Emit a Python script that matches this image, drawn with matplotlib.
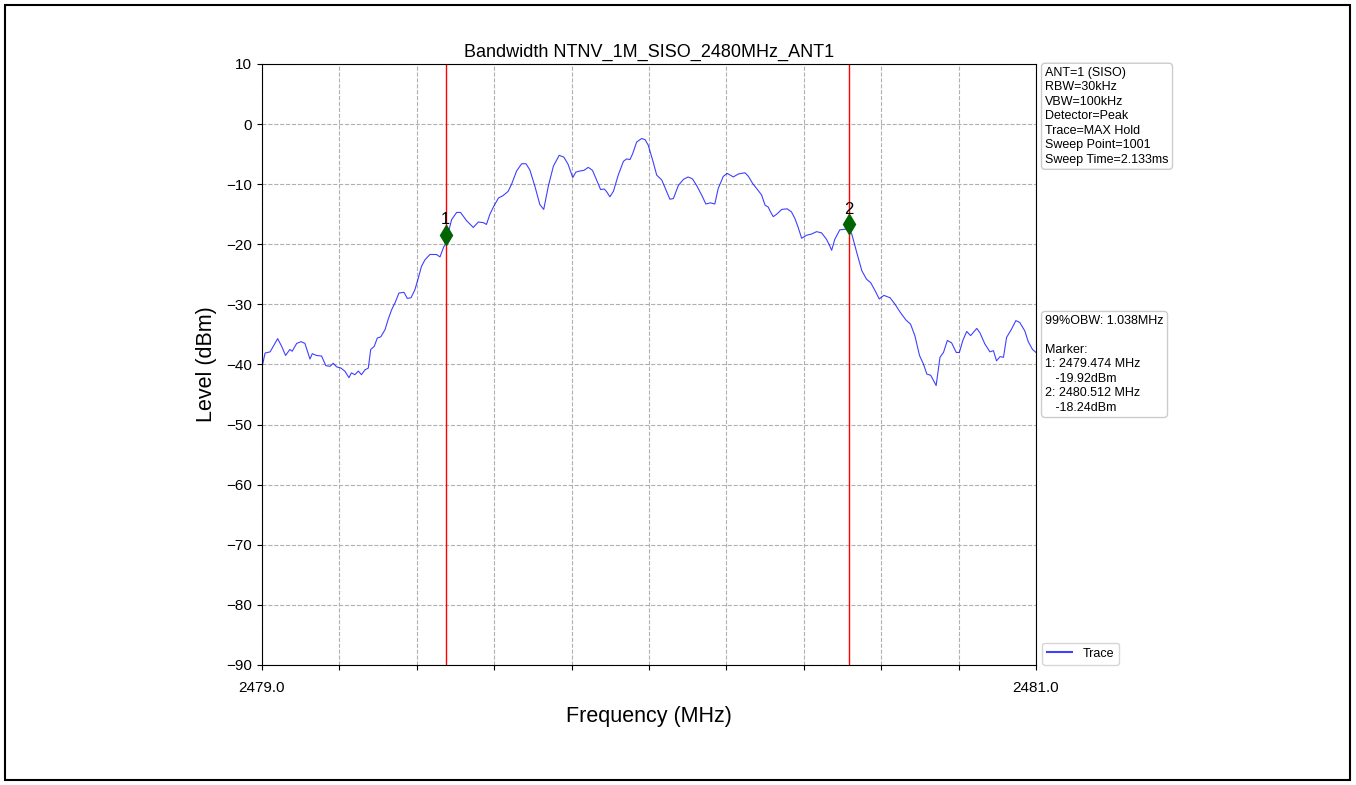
import matplotlib

matplotlib.use("Agg")
import matplotlib.pyplot as plt
from matplotlib.patches import Rectangle

plt.rcParams['font.family'] = ['Liberation Sans', 'DejaVu Sans']

# 频率偏移 (MHz, 相对 2479.0) 与电平 (dBm)
freq_off = [0.000, 0.008, 0.021, 0.029, 0.0405, 0.051, 0.061, 0.072, 0.078, 0.0896,
            0.101, 0.111, 0.124, 0.130, 0.141, 0.154, 0.165, 0.176, 0.184, 0.193,
            0.204, 0.214, 0.2248, 0.231, 0.240, 0.249, 0.257, 0.266, 0.2747, 0.281,
            0.290, 0.298, 0.307, 0.318, 0.326, 0.335, 0.344, 0.354, 0.367, 0.3755,
            0.385, 0.395, 0.404, 0.412, 0.421, 0.434, 0.451, 0.460, 0.4686, 0.4746,
            0.490, 0.503, 0.513, 0.529, 0.546, 0.559, 0.572, 0.580, 0.589, 0.598,
            0.611, 0.623, 0.636, 0.645, 0.658, 0.671, 0.682, 0.692, 0.705, 0.718,
            0.728, 0.740, 0.753, 0.768, 0.780, 0.791, 0.803, 0.811, 0.822, 0.832,
            0.843, 0.854, 0.864, 0.875, 0.884, 0.890, 0.899, 0.908, 0.921, 0.934,
            0.942, 0.951, 0.958, 0.968, 0.981, 0.990, 0.998, 1.0095, 1.020, 1.033,
            1.044, 1.054, 1.063, 1.076, 1.089, 1.101, 1.112, 1.123, 1.136, 1.147,
            1.159, 1.170, 1.179, 1.192, 1.202, 1.218, 1.231, 1.248, 1.257, 1.268,
            1.278, 1.291, 1.300, 1.308, 1.314, 1.321, 1.330, 1.343, 1.357, 1.368,
            1.377, 1.385, 1.3945, 1.407, 1.420, 1.433, 1.446, 1.459, 1.466, 1.472,
            1.480, 1.493, 1.506, 1.515, 1.524, 1.537, 1.550, 1.562, 1.573, 1.584,
            1.595, 1.607, 1.623, 1.636, 1.649, 1.664, 1.676, 1.687, 1.699, 1.709,
            1.718, 1.728, 1.742, 1.752, 1.761, 1.771, 1.782, 1.794, 1.802, 1.811,
            1.821, 1.831, 1.847, 1.855, 1.868, 1.881, 1.890, 1.898, 1.907, 1.916,
            1.924, 1.937, 1.948, 1.958, 1.971, 1.980, 1.991, 2.000]
level = [-40.5, -38.1, -37.9, -37.0, -35.7, -37.0, -38.5, -37.5, -37.8, -36.5,
         -36.2, -36.5, -39.1, -38.2, -38.5, -38.6, -40.2, -40.3, -39.8, -40.4,
         -40.6, -41.1, -42.2, -41.4, -41.7, -41.1, -41.7, -40.9, -40.6, -37.5,
         -37.0, -35.6, -35.4, -34.2, -32.5, -30.9, -29.7, -28.1, -28.0, -29.0,
         -28.9, -27.6, -25.6, -23.7, -22.6, -21.7, -21.7, -22.1, -20.6, -19.8,
         -15.9, -14.7, -14.7, -16.1, -17.2, -16.3, -16.4, -16.7, -15.0, -13.8,
         -12.3, -11.9, -11.2, -10.0, -7.8, -6.6, -6.6, -7.6, -10.3, -13.4,
         -14.2, -10.3, -7.0, -5.2, -5.5, -6.7, -8.9, -8.0, -7.8, -7.7,
         -7.2, -7.7, -9.2, -10.9, -10.8, -11.2, -12.1, -11.2, -8.4, -6.2,
         -5.8, -5.9, -4.9, -3.0, -2.4, -2.6, -3.5, -6.0, -8.5, -9.3,
         -11.0, -12.5, -12.4, -10.2, -9.2, -8.8, -9.1, -10.2, -11.8, -13.3,
         -13.1, -13.3, -10.7, -8.7, -8.2, -8.8, -8.3, -8.1, -8.7, -9.9,
         -10.7, -11.8, -13.5, -13.8, -14.6, -15.4, -15.0, -14.2, -14.1, -14.6,
         -15.7, -17.1, -19.0, -18.5, -18.3, -17.9, -18.1, -19.2, -20.1, -21.0,
         -19.2, -17.6, -17.5, -17.5, -18.3, -21.4, -24.4, -25.8, -26.4, -27.7,
         -29.1, -28.5, -28.9, -30.0, -31.3, -32.6, -33.3, -35.2, -38.5, -39.9,
         -41.6, -41.8, -43.5, -38.8, -38.0, -36.0, -36.4, -38.0, -38.0, -36.0,
         -34.5, -35.2, -34.0, -34.7, -36.6, -37.9, -37.7, -39.4, -38.7, -38.8,
         -35.5, -34.1, -32.7, -33.0, -34.4, -36.2, -37.5, -38.0]
freq = [2479.0 + f for f in freq_off]

marker_freq = [2479.475, 2480.517]
marker_level = [-18.4, -16.7]
marker_names = ['1', '2']

settings_text = ("ANT=1 (SISO)\nRBW=30kHz\nVBW=100kHz\nDetector=Peak\n"
                 "Trace=MAX Hold\nSweep Point=1001\nSweep Time=2.133ms")
result_text = ("99%OBW: 1.038MHz\n\nMarker:\n1: 2479.474 MHz\n   -19.92dBm\n"
               "2: 2480.512 MHz\n   -18.24dBm")

fig = plt.figure(figsize=(13.56, 7.85), dpi=100)
ax = fig.add_axes([0.1932, 0.1529, 0.5708, 0.7656])

ax.plot(freq, level, color='blue', linewidth=0.8, alpha=0.75, label='Trace')
for f in marker_freq:
    ax.axvline(f, color='red', linewidth=1)
ax.plot(marker_freq, marker_level, 'd', color='darkgreen', markersize=10, zorder=5)
for f, l, n in zip(marker_freq, marker_level, marker_names):
    ax.text(f, l + 1.2, n, ha='center', va='bottom', fontsize=12)

ax.set_xlim(2479.0, 2481.0)
ax.set_ylim(-90, 10)
ax.set_xticks([2479.0 + 0.2 * i for i in range(11)])
ax.set_xticklabels(['2479.0'] + [''] * 9 + ['2481.0'])
ax.set_yticks(range(-90, 11, 10))
ax.tick_params(labelsize=11)
ax.tick_params(axis='x', pad=8)
ax.grid(True, linestyle='--', color='#b0b0b0', linewidth=0.8)
ax.set_title('Bandwidth NTNV_1M_SISO_2480MHz_ANT1', fontsize=13, pad=5)
ax.set_xlabel('Frequency (MHz)', fontsize=15.5, labelpad=8)
ax.set_ylabel('Level (dBm)', fontsize=15.5, labelpad=7)

box = dict(boxstyle='round,pad=0.3', facecolor='white', edgecolor='#cccccc')
ax.text(1.012, 0.995, settings_text, transform=ax.transAxes, fontsize=9,
        va='top', ha='left', bbox=box, linespacing=1.27)
ax.text(1.012, 0.582, result_text, transform=ax.transAxes, fontsize=9,
        va='top', ha='left', bbox=box, linespacing=1.27)
leg = ax.legend(loc='lower left', bbox_to_anchor=(1.0, -0.01), fontsize=9)
leg.get_lines()[0].set_linewidth(1.5)

fig.patches.append(Rectangle((5 / 1356, 5 / 785), 1345 / 1356, 775 / 785,
                             transform=fig.transFigure, fill=False,
                             edgecolor='black', linewidth=1.5))

plt.savefig('out.png', dpi=100)
